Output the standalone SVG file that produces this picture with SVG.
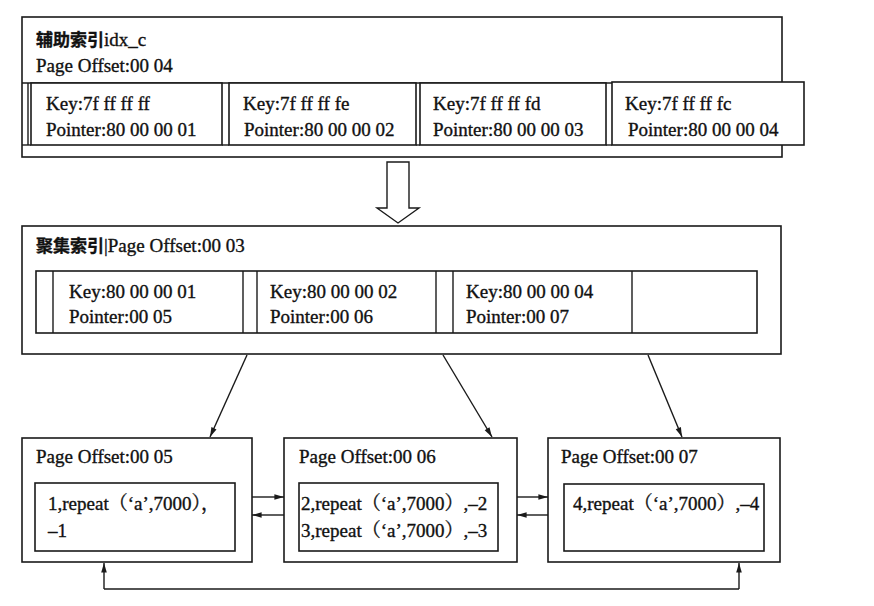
<svg xmlns="http://www.w3.org/2000/svg" width="874" height="606" viewBox="0 0 874 606">
<defs>
<style>
.box{fill:#fff;stroke:#1a1a1a;stroke-width:1.6}
.ln{fill:none;stroke:#1a1a1a;stroke-width:1.4}
.t{font-family:"Liberation Serif","Noto Serif CJK SC","Noto Sans CJK SC",serif;font-size:19px;fill:#111;stroke:#111;stroke-width:0.35}
.cn{font-family:"Noto Sans CJK SC",sans-serif;font-weight:bold;font-size:17px}
.con{fill:none;stroke:#1a1a1a;stroke-width:1.4}
</style>
<marker id="ah" viewBox="0 0 12 10" refX="12" refY="5" markerWidth="11" markerHeight="8" markerUnits="userSpaceOnUse" orient="auto">
<path d="M0,1.5 L12,5 L0,8.5 Z" fill="#1a1a1a"/>
</marker>
</defs>
<rect width="874" height="606" fill="#fff"/>

<g id="secondary-index">
<rect class="box" x="22" y="17" width="760" height="140"/>
<line class="ln" x1="22" y1="83" x2="782" y2="83"/>
<text class="t" x="36" y="46"><tspan class="cn">辅助索引</tspan>idx_c</text>
<text class="t" x="36" y="72">Page Offset:00 04</text>
<line class="ln" x1="28" y1="83" x2="28" y2="145"/>
<line class="ln" x1="22" y1="145" x2="31" y2="145"/>
<rect class="box" x="31" y="83" width="191" height="62"/>
<line class="ln" x1="222" y1="145" x2="229" y2="145"/>
<rect class="box" x="229" y="83" width="187" height="62"/>
<line class="ln" x1="416" y1="145" x2="420" y2="145"/>
<rect class="box" x="420" y="83" width="186" height="62"/>
<line class="ln" x1="606" y1="145" x2="612" y2="145"/>
<rect class="box" x="612" y="82" width="192" height="63"/>
<text class="t" x="46" y="110">Key:7f ff ff ff</text>
<text class="t" x="46" y="136">Pointer:80 00 00 01</text>
<text class="t" x="243" y="110">Key:7f ff ff fe</text>
<text class="t" x="244" y="136">Pointer:80 00 00 02</text>
<text class="t" x="433" y="110">Key:7f ff ff fd</text>
<text class="t" x="433" y="136">Pointer:80 00 00 03</text>
<text class="t" x="625" y="110">Key:7f ff ff fc</text>
<text class="t" x="628" y="136">Pointer:80 00 00 04</text>
</g>

<g id="big-arrow">
<path class="ln" d="M387,162 L409,162 L409,208 L419,208 L398,223 L377,208 L387,208 Z" fill="#fff"/>
</g>

<g id="clustered-index">
<rect class="box" x="22" y="226" width="759" height="128"/>
<text class="t" x="36" y="252"><tspan class="cn" font-size="18">聚集索引</tspan>|Page Offset:00 03</text>
<rect class="box" x="36" y="271" width="721" height="62"/>
<line class="ln" x1="53" y1="271" x2="53" y2="333"/>
<line class="ln" x1="243" y1="271" x2="243" y2="333"/>
<line class="ln" x1="257" y1="271" x2="257" y2="333"/>
<line class="ln" x1="436" y1="271" x2="436" y2="333"/>
<line class="ln" x1="453" y1="271" x2="453" y2="333"/>
<line class="ln" x1="632" y1="271" x2="632" y2="333"/>
<text class="t" x="69" y="298">Key:80 00 00 01</text>
<text class="t" x="69" y="323">Pointer:00 05</text>
<text class="t" x="270" y="298">Key:80 00 00 02</text>
<text class="t" x="270" y="323">Pointer:00 06</text>
<text class="t" x="466" y="298">Key:80 00 00 04</text>
<text class="t" x="466" y="323">Pointer:00 07</text>
</g>

<g id="page-05">
<rect class="box" x="22" y="438" width="230" height="124"/>
<text class="t" x="36" y="463">Page Offset:00 05</text>
<rect class="box" x="35" y="483" width="200" height="68"/>
<text class="t" x="48" y="510">1,repeat（‘a’,7000），</text>
<text class="t" x="48" y="537">–1</text>
</g>

<g id="page-06">
<rect class="box" x="284" y="438" width="233" height="124"/>
<text class="t" x="299" y="463">Page Offset:00 06</text>
<rect class="box" x="299" y="483" width="199" height="68"/>
<text class="t" x="301" y="510">2,repeat（‘a’,7000）,–2</text>
<text class="t" x="301" y="537">3,repeat（‘a’,7000）,–3</text>
</g>

<g id="page-07">
<rect class="box" x="548" y="438" width="232" height="124"/>
<text class="t" x="561" y="463">Page Offset:00 07</text>
<rect class="box" x="564" y="484" width="200" height="67"/>
<text class="t" x="573" y="510">4,repeat（‘a’,7000）,–4</text>
</g>

<g id="connectors">
<line class="con" x1="247" y1="355" x2="210" y2="437" marker-end="url(#ah)"/>
<line class="con" x1="443" y1="355" x2="492" y2="437" marker-end="url(#ah)"/>
<line class="con" x1="648" y1="355" x2="682" y2="437" marker-end="url(#ah)"/>
<line class="con" x1="252" y1="497" x2="284" y2="497" marker-end="url(#ah)"/>
<line class="con" x1="284" y1="515" x2="252" y2="515" marker-end="url(#ah)"/>
<line class="con" x1="517" y1="497" x2="548" y2="497" marker-end="url(#ah)"/>
<line class="con" x1="548" y1="515" x2="517" y2="515" marker-end="url(#ah)"/>
<path class="con" d="M104,589 L739,589" />
<line class="con" x1="104" y1="589" x2="104" y2="563" marker-end="url(#ah)"/>
<line class="con" x1="739" y1="589" x2="739" y2="563" marker-end="url(#ah)"/>
</g>
</svg>
